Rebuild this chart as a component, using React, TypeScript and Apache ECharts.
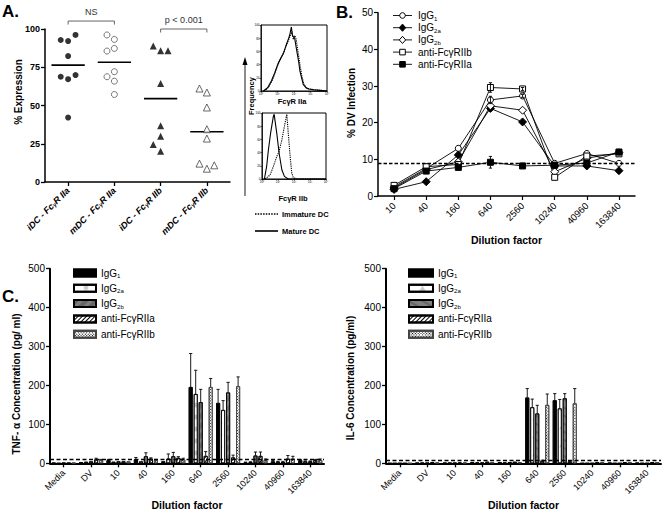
import React, { useEffect, useRef } from 'react';
import * as echarts from 'echarts';

const FONT = '"Liberation Sans", Arial, Helvetica, sans-serif';

// ---------- Panel A ----------
const aCategories = ['iDC - FcγR IIa', 'mDC - FcγR IIa', 'iDC - FcγR IIb', 'mDC - FcγR IIb'];
const aIdcIIa = [92.1, 92.8, 96.1, 82.3, 67.2, 68.8, 69.9, 42.1];
const aMdcIIa = [93.2, 96.1, 87.3, 85.6, 72.1, 68.8, 65.9, 57.2];
const aIdcIIb = [85.8, 88.9, 85.8, 64.4, 36.7, 29.9, 24.5, 20.1];
const aMdcIIb = [58.5, 61.1, 48.7, 34.5, 28.4, 8.7, 12.0, 10.9];
const bracketLabels = ['NS', 'p < 0.001'];
const bracketFrom = [0, 2];
const bracketTo = [1, 3];
const bracketLevel = [105.2, 100];

// ---------- Histograms ----------
const histTopMatureX = [0.14, 0.4, 0.64, 0.84, 1.04, 1.2, 1.36, 1.56, 1.68, 1.76, 1.84, 1.9, 1.96, 2.04, 2.16, 2.28, 2.36, 2.48, 2.56, 2.72, 2.88, 3.2, 3.6, 4.0];
const histTopMatureY = [0, 5, 16, 28, 42, 50, 57, 72, 80, 87, 97, 85, 82, 80, 62, 45, 30, 18, 10, 5, 3, 2, 1, 0];
const histTopImmatureX = [0.2, 0.48, 0.72, 0.96, 1.12, 1.32, 1.52, 1.68, 1.8, 1.88, 1.96, 2.04, 2.12, 2.24, 2.36, 2.48, 2.6, 2.8, 3.2, 4.0];
const histTopImmatureY = [0, 6, 18, 35, 45, 55, 68, 78, 85, 90, 78, 84, 80, 60, 40, 22, 10, 4, 2, 0];
const histBotMatureX = [0.15, 0.29, 0.4, 0.54, 0.71, 0.76, 0.92, 1.07, 1.24, 1.4, 1.64, 4.0];
const histBotMatureY = [0, 19, 44, 70, 95, 98, 70, 39, 14, 4, 0, 0];
const histBotImmatureX = [0.19, 0.5, 0.71, 0.92, 1.07, 1.24, 1.34, 1.44, 1.55, 1.64, 1.76, 1.86, 1.96, 2.18, 4.0];
const histBotImmatureY = [0, 6, 19, 34, 42, 59, 72, 85, 98, 70, 34, 9, 2, 0, 0];
const histYTicks = [0, 20, 40, 60, 80, 100];
const histXTickLabels = ['10⁰', '10¹', '10²', '10³', '10⁴'];

// ---------- Panel B ----------
const bCategories = ['10', '40', '160', '640', '2560', '10240', '40960', '163840'];
const bNames = ['IgG1', 'IgG2a', 'IgG2b', 'anti-FcγRIIb', 'anti-FcγRIIa'];
const bIgG1 = [2.5, 7.5, 13.0, 26.2, 27.3, 8.9, 11.6, 8.9];
const bIgG2a = [1.8, 3.9, 11.2, 23.9, 20.2, 8.2, 8.2, 6.9];
const bIgG2b = [2.2, 7.2, 9.3, 24.6, 23.4, 6.6, 10.3, 11.8];
const bAntiIIb = [2.9, 8.0, 8.6, 29.6, 29.2, 5.1, 10.9, 11.5];
const bAntiIIa = [2.0, 6.8, 7.8, 9.2, 8.2, 8.4, 9.0, 12.0];
const bErrIgG1 = [0, 0, 0, 1.0, 0.4, 0, 0, 0];
const bErrIIb = [0, 0, 0, 1.3, 0.4, 0, 0, 0.3];
const bErrIIa = [0.3, 0, 0, 1.6, 0.3, 0.3, 0.4, 0.3];
const bBaseline = 8.9;

// ---------- Panel C ----------
const cCategories = ['Media', 'DV', '10', '40', '160', '640', '2560', '10240', '40960', '163840'];
const cNames = ['IgG1', 'IgG2a', 'IgG2b', 'anti-FcγRIIa', 'anti-FcγRIIb'];
const tnfIgG1 = [1, 3, 8, 10, 5, 196, 155, 2, 5, 8];
const tnfIgG2a = [0, 4, 4, 5, 12, 178, 137, 3, 4, 5];
const tnfIgG2b = [1, 5, 5, 18, 18, 157, 182, 20, 3, 5];
const tnfAntiIIa = [1, 10, 5, 12, 14, 19, 15, 19, 12, 8];
const tnfAntiIIb = [1, 8, 5, 8, 10, 196, 198, 8, 12, 8];
const tnfErrIgG1 = [0, 0, 2, 5, 0, 86, 35, 1, 2, 2];
const tnfErrIgG2a = [0, 0, 0, 0, 12, 61, 24, 1, 1, 1];
const tnfErrIgG2b = [0, 0, 0, 9, 10, 33, 26, 9, 2, 1];
const tnfErrAntiIIa = [0, 3, 0, 2, 3, 11, 6, 10, 8, 2];
const tnfErrAntiIIb = [0, 2, 0, 2, 3, 22, 24, 3, 6, 3];
const tnfBaseline = 10;

const il6IgG1 = [0, 1, 1, 3, 3, 169, 162, 0, 1, 1];
const il6IgG2a = [0, 1, 1, 2, 2, 144, 141, 0, 0, 0];
const il6IgG2b = [0, 1, 1, 2, 3, 128, 167, 0, 0, 0];
const il6AntiIIa = [0, 3, 2, 4, 4, 6, 5, 3, 3, 3];
const il6AntiIIb = [0, 2, 2, 3, 3, 150, 154, 3, 3, 3];
const il6ErrIgG1 = [0, 0, 0, 0, 0, 23, 17, 0, 0, 0];
const il6ErrIgG2a = [0, 0, 0, 0, 0, 21, 23, 0, 0, 0];
const il6ErrIgG2b = [0, 0, 0, 0, 0, 21, 12, 0, 0, 0];
const il6ErrAntiIIa = [0, 0, 0, 0, 0, 2, 2, 0, 0, 0];
const il6ErrAntiIIb = [0, 0, 0, 0, 0, 28, 38, 0, 0, 0];
const il6Baseline = 8.5;

const BAR_W = 4;
const BAR_PITCH = 5;

function swarm(values: number[], center: number, step: number, thr: number) {
  const placed: number[][] = [];
  const cands = [0, -1, 1, -2, 2];
  for (const v of values) {
    let done = false;
    for (const c of cands) {
      const x = center + c * step;
      if (!placed.some(([px, pv]) => Math.abs(px - x) < step * 0.5 && Math.abs(pv - v) < thr)) {
        placed.push([x, v]);
        done = true;
        break;
      }
    }
    if (!done) placed.push([center, v]);
  }
  return placed;
}

const mean = (a: number[]) => a.reduce((s, v) => s + v, 0) / a.length;

const richName = (name: string) => {
  const base = name.split('|')[0];
  const m = base.match(/^IgG(.+)$/);
  return m ? `IgG{sub|${m[1]}}` : base;
};

function errSeries(xi: number, yi: number, values: number[], errs: number[], slot: number, both: boolean) {
  return {
    type: 'custom',
    xAxisIndex: xi,
    yAxisIndex: yi,
    clip: false,
    silent: true,
    z: 6,
    encode: { x: 0, y: 1 },
    data: values.map((v, i) => [i, v, errs[i]]),
    renderItem: (params: any, api: any) => {
      const e = api.value(2);
      if (!e) return { type: 'group', children: [] };
      const base = api.coord([api.value(0), api.value(1)]);
      const top = api.coord([api.value(0), api.value(1) + e]);
      const bot = api.coord([api.value(0), api.value(1) - e]);
      const x = base[0] + slot * BAR_PITCH;
      const ch: any[] = [
        { type: 'line', shape: { x1: x, y1: both ? bot[1] : base[1], x2: x, y2: top[1] }, style: { stroke: '#000', lineWidth: 0.9 } },
        { type: 'line', shape: { x1: x - 1.6, y1: top[1], x2: x + 1.6, y2: top[1] }, style: { stroke: '#000', lineWidth: 0.9 } },
      ];
      if (both) ch.push({ type: 'line', shape: { x1: x - 1.6, y1: bot[1], x2: x + 1.6, y2: bot[1] }, style: { stroke: '#000', lineWidth: 0.9 } });
      return { type: 'group', children: ch };
    },
  };
}

const hatchDecal = { symbol: 'rect', symbolSize: 1, dashArrayX: [1, 0], dashArrayY: [1, 1.6], rotation: -Math.PI / 4, color: '#000' };
const dotDecal = { symbol: 'rect', symbolSize: 1, dashArrayX: [1, 1], dashArrayY: [1, 1], color: '#000' };

function barSet(xi: number, yi: number, tag: string, vals: number[][], errs: number[][], baseline: number) {
  const styles: any[] = [
    { color: '#000', borderColor: '#000', borderWidth: 0.8, decal: 'none' },
    { color: '#fff', borderColor: '#000', borderWidth: 0.8, decal: 'none' },
    { color: '#808080', borderColor: '#000', borderWidth: 0.8, decal: 'none' },
    { color: '#fff', borderColor: '#000', borderWidth: 0.8, decal: hatchDecal },
    { color: '#fff', borderColor: '#444', borderWidth: 0.8, decal: dotDecal },
  ];
  const out: any[] = [];
  cNames.forEach((n, k) => {
    const s: any = {
      type: 'bar',
      name: `${n}|${tag}`,
      xAxisIndex: xi,
      yAxisIndex: yi,
      data: vals[k],
      barWidth: BAR_W,
      barGap: '25%',
      itemStyle: styles[k],
      silent: true,
    };
    if (k === 0) {
      s.markLine = {
        symbol: 'none',
        silent: true,
        label: { show: false },
        lineStyle: { type: [4, 2.5], color: '#000', width: 1.3 },
        data: [{ yAxis: baseline }],
      };
    }
    out.push(s);
  });
  cNames.forEach((n, k) => out.push(errSeries(xi, yi, vals[k], errs[k], k - 2, false)));
  return out;
}

function buildOption() {
  const axisLine = (w: number) => ({ show: true, onZero: false, lineStyle: { color: '#000', width: w } });
  const tick = (len: number, w = 1) => ({ show: true, length: len, lineStyle: { color: '#000', width: w } });

  const swA = [
    swarm(aIdcIIa, 0.5, 0.16, 5.8),
    swarm(aMdcIIa, 1.5, 0.16, 5.8),
    swarm(aIdcIIb, 2.5, 0.16, 5.8),
    swarm(aMdcIIb, 3.5, 0.16, 5.8),
  ];
  const aMeans = [aIdcIIa, aMdcIIa, aIdcIIb, aMdcIIb].map((g, i) => [i + 0.5, mean(g)]);

  const grid = [
    { left: 45, top: 29, width: 185, height: 153 },
    { left: 261, top: 25, width: 66, height: 66, show: true, borderColor: '#000', borderWidth: 1 },
    { left: 262, top: 113, width: 64, height: 66, show: true, borderColor: '#000', borderWidth: 1 },
    { left: 378, top: 12.7, width: 257, height: 183.3 },
    { left: 50, top: 268.7, width: 274, height: 194.6 },
    { left: 386, top: 268.7, width: 275, height: 194.6 },
  ].map((g) => ({ ...g, containLabel: false, outerBoundsMode: 'none' }));

  const catLabel = (size: number) => ({ rotate: 45, fontSize: size, color: '#000', fontFamily: FONT, margin: 8 });

  const histX = (gi: number) => ({
    type: 'value', gridIndex: gi, min: 0, max: 4, interval: 1, splitLine: { show: false },
    axisLine: axisLine(0.8), axisTick: tick(1.5, 0.6),
    axisLabel: { fontSize: 3, margin: 1.5, color: '#000', fontFamily: FONT, formatter: (v: number) => histXTickLabels[v] },
  });

  const xName = (gap: number) => ({
    name: 'Dilution factor', nameLocation: 'middle', nameGap: gap,
    nameTextStyle: { fontSize: 10.5, fontWeight: 'bold', color: '#000', fontFamily: FONT },
  });

  const xAxis: any[] = [
    {
      type: 'category', gridIndex: 0, data: aCategories,
      axisLine: axisLine(1.5), axisTick: { ...tick(4, 1.3), alignWithLabel: true },
      axisLabel: {
        rotate: 45, fontSize: 9, fontWeight: 'bold', fontStyle: 'italic', color: '#000', fontFamily: FONT, margin: 7,
        formatter: (v: string) => v.replace('γ', '{g|γ}'),
        rich: { g: { fontSize: 6, fontWeight: 'bold', fontStyle: 'italic', fontFamily: FONT, verticalAlign: 'bottom' } },
      },
    },
    { type: 'value', gridIndex: 0, min: 0, max: 4, show: false },
    histX(1),
    histX(2),
    {
      type: 'category', gridIndex: 3, data: bCategories,
      axisLine: axisLine(1.5), axisTick: { ...tick(4, 1.2), alignWithLabel: true },
      axisLabel: catLabel(9.5), ...xName(38),
    },
    {
      type: 'category', gridIndex: 4, data: cCategories,
      axisLine: axisLine(2), axisTick: { ...tick(4, 1.3), alignWithLabel: true },
      axisLabel: catLabel(9), ...xName(36),
    },
    {
      type: 'category', gridIndex: 5, data: cCategories,
      axisLine: axisLine(2), axisTick: { ...tick(4, 1.3), alignWithLabel: true },
      axisLabel: catLabel(9), ...xName(36),
    },
  ];

  const yLabel = (size: number, bold = false) => ({ fontSize: size, color: '#000', fontFamily: FONT, margin: 5, fontWeight: bold ? 'bold' : 'normal' });
  const histY = (gi: number) => ({
    type: 'value', gridIndex: gi, min: 0, max: 100, interval: 20, splitLine: { show: false }, axisLine: axisLine(0.8), axisTick: tick(1.5, 0.6),
    axisLabel: { fontSize: 3, margin: 1.5, color: '#000', fontFamily: FONT, formatter: (v: number) => (histYTicks.includes(v) ? String(v) : '') },
  });

  const yAxis: any[] = [
    { type: 'value', gridIndex: 0, min: 0, max: 100, interval: 25, splitLine: { show: false }, axisLine: axisLine(1.5), axisTick: tick(4, 1.3), axisLabel: yLabel(9, true) },
    histY(1),
    histY(2),
    { type: 'value', gridIndex: 3, min: 0, max: 50, interval: 10, splitLine: { show: false }, axisLine: axisLine(1.5), axisTick: tick(4, 1.2), axisLabel: yLabel(10) },
    { type: 'value', gridIndex: 4, min: 0, max: 500, interval: 100, splitLine: { show: false }, axisLine: axisLine(2), axisTick: tick(4, 1.3), axisLabel: yLabel(10) },
    { type: 'value', gridIndex: 5, min: 0, max: 500, interval: 100, splitLine: { show: false }, axisLine: axisLine(2), axisTick: tick(4, 1.3), axisLabel: yLabel(10) },
  ];

  const aStyles: any[] = [
    { symbol: 'circle', itemStyle: { color: '#000', decal: 'none' } },
    { symbol: 'circle', itemStyle: { color: '#fff', borderColor: '#555', borderWidth: 1, decal: 'none' } },
    { symbol: 'triangle', itemStyle: { color: '#000', decal: 'none' } },
    { symbol: 'triangle', itemStyle: { color: '#fff', borderColor: '#444', borderWidth: 1, decal: 'none' } },
  ];

  const series: any[] = [];
  swA.forEach((pts, i) => {
    series.push({
      type: 'scatter', xAxisIndex: 1, yAxisIndex: 0, data: pts, symbolSize: i >= 2 ? 7 : 6,
      symbol: aStyles[i].symbol, itemStyle: aStyles[i].itemStyle, silent: true,
    });
  });
  series.push({
    type: 'custom', xAxisIndex: 1, yAxisIndex: 0, clip: false, silent: true, encode: { x: 0, y: 1 },
    data: aMeans,
    renderItem: (p: any, api: any) => {
      const a = api.coord([api.value(0) - 0.36, api.value(1)]);
      const b = api.coord([api.value(0) + 0.36, api.value(1)]);
      return { type: 'line', shape: { x1: a[0], y1: a[1], x2: b[0], y2: b[1] }, style: { stroke: '#000', lineWidth: 1.6 } };
    },
  });
  series.push({
    type: 'custom', xAxisIndex: 1, yAxisIndex: 0, clip: false, silent: true, encode: { x: 0, y: 2 },
    data: bracketFrom.map((f, i) => [f + 0.5, bracketTo[i] + 0.5, bracketLevel[i]]),
    renderItem: (p: any, api: any) => {
      const l = api.coord([api.value(0), api.value(2)]);
      const r = api.coord([api.value(1), api.value(2)]);
      const leg = 3.5;
      return {
        type: 'group',
        children: [
          { type: 'polyline', shape: { points: [[l[0], l[1] + leg], [l[0], l[1]], [r[0], r[1]], [r[0], r[1] + leg]] }, style: { stroke: '#555', lineWidth: 0.9, fill: 'none' } },
          { type: 'text', x: (l[0] + r[0]) / 2, y: l[1] - 5, style: { text: bracketLabels[p.dataIndex], align: 'center', verticalAlign: 'bottom', fontSize: 9, fontFamily: FONT, fill: '#333' } },
        ],
      };
    },
  });

  const histLine = (xi: number, yi: number, xs: number[], ys: number[], dotted: boolean) => ({
    type: 'line', xAxisIndex: xi, yAxisIndex: yi, showSymbol: false, symbol: 'none', silent: true,
    data: xs.map((x, i) => [x, ys[i]]),
    lineStyle: { color: '#000', width: 1.1, type: dotted ? [1.2, 1] : 'solid' },
  });
  series.push(histLine(2, 1, histTopImmatureX, histTopImmatureY, true));
  series.push(histLine(2, 1, histTopMatureX, histTopMatureY, false));
  series.push(histLine(3, 2, histBotImmatureX, histBotImmatureY, true));
  series.push(histLine(3, 2, histBotMatureX, histBotMatureY, false));

  const bValues = [bIgG1, bIgG2a, bIgG2b, bAntiIIb, bAntiIIa];
  const bSymbols = ['circle', 'diamond', 'diamond', 'rect', 'rect'];
  const bSizes = [6, 8, 8, 6, 6];
  const bFills = ['#fff', '#000', '#fff', '#fff', '#000'];
  bNames.forEach((n, i) => {
    const s: any = {
      type: 'line', name: `${n}|B`, xAxisIndex: 4, yAxisIndex: 3, silent: true,
      data: bValues[i], symbol: bSymbols[i], symbolSize: bSizes[i],
      itemStyle: { color: bFills[i], borderColor: '#000', borderWidth: 1, decal: 'none' },
      showSymbol: true, lineStyle: { color: '#000', width: 0.9 }, z: 3,
    };
    if (i === 0) {
      s.markLine = {
        symbol: 'none', silent: true, label: { show: false },
        lineStyle: { type: [3.5, 2], color: '#000', width: 1.4 },
        data: [{ yAxis: bBaseline }],
      };
    }
    series.push(s);
  });
  series.push(errSeries(4, 3, bIgG1, bErrIgG1, 0, true));
  series.push(errSeries(4, 3, bAntiIIb, bErrIIb, 0, true));
  series.push(errSeries(4, 3, bAntiIIa, bErrIIa, 0, true));

  series.push(...barSet(5, 4, 'T', [tnfIgG1, tnfIgG2a, tnfIgG2b, tnfAntiIIa, tnfAntiIIb], [tnfErrIgG1, tnfErrIgG2a, tnfErrIgG2b, tnfErrAntiIIa, tnfErrAntiIIb], tnfBaseline));
  series.push(...barSet(6, 5, 'I', [il6IgG1, il6IgG2a, il6IgG2b, il6AntiIIa, il6AntiIIb], [il6ErrIgG1, il6ErrIgG2a, il6ErrIgG2b, il6ErrAntiIIa, il6ErrAntiIIb], il6Baseline));

  const subRich = { sub: { fontSize: 6, fontFamily: FONT, verticalAlign: 'bottom', lineHeight: 12 } };
  const legTextStyle = { fontSize: 10, color: '#000', fontFamily: FONT, lineHeight: 12, rich: subRich };
  const legend: any[] = [
    {
      left: 68, top: 262, orient: 'vertical', itemWidth: 22, itemHeight: 7, itemGap: 3.3, selectedMode: false, icon: 'rect',
      data: cNames.map((n) => `${n}|T`), formatter: richName, textStyle: legTextStyle,
    },
    {
      left: 403, top: 262, orient: 'vertical', itemWidth: 24, itemHeight: 7, itemGap: 3.3, selectedMode: false, icon: 'rect',
      data: cNames.map((n) => `${n}|I`), formatter: richName, textStyle: legTextStyle,
    },
  ];

  const txt = (text: string, x: number, y: number, size: number, opts: any = {}) => ({
    type: 'text', x, y, rotation: opts.rotation || 0, silent: true,
    style: { text, fontSize: size, fontWeight: opts.weight || 'bold', fontFamily: FONT, fill: '#000', align: opts.align || 'center', verticalAlign: 'middle', rich: opts.rich },
  });

  // Panel B legend drawn as a key (line + marker + label)
  const bLegend: any[] = [];
  bNames.forEach((n, i) => {
    const y = 15.5 + i * 12.2;
    const cx = 402.5;
    bLegend.push({ type: 'line', silent: true, shape: { x1: 393, y1: y, x2: 412, y2: y }, style: { stroke: '#000', lineWidth: 0.9 } });
    const st = { fill: bFills[i], stroke: '#000', lineWidth: 1 };
    if (bSymbols[i] === 'circle') bLegend.push({ type: 'circle', silent: true, shape: { cx, cy: y, r: 2.8 }, style: st });
    else if (bSymbols[i] === 'diamond') bLegend.push({ type: 'polygon', silent: true, shape: { points: [[cx, y - 3.6], [cx + 3.2, y], [cx, y + 3.6], [cx - 3.2, y]] }, style: st });
    else bLegend.push({ type: 'rect', silent: true, shape: { x: cx - 2.8, y: y - 2.8, width: 5.6, height: 5.6 }, style: st });
    bLegend.push(txt(richName(n), 418, y, 10, { align: 'left', weight: 'normal', rich: subRich }));
  });

  const graphic: any[] = [
    txt('A.', 2, 11, 17, { align: 'left' }),
    txt('B.', 336, 12, 17, { align: 'left' }),
    txt('C.', 2, 296, 17, { align: 'left' }),
    txt('% Expression', 18, 92, 10, { rotation: Math.PI / 2 }),
    txt('% DV Infection', 351, 103, 10, { rotation: Math.PI / 2 }),
    txt('TNF- α Concentration (pg/ ml)', 16, 384, 10, { rotation: Math.PI / 2 }),
    txt('IL-6 Concentration (pg/ml)', 350, 378, 10, { rotation: Math.PI / 2 }),
    txt('FcγR IIa', 292, 101, 7.5),
    txt('FcγR IIb', 293, 198, 7.5),
    txt('Frequency', 251, 96, 7.5, { rotation: Math.PI / 2 }),
    { type: 'line', silent: true, shape: { x1: 245, y1: 196, x2: 245, y2: 64 }, style: { stroke: '#000', lineWidth: 0.9 } },
    { type: 'polygon', silent: true, shape: { points: [[245, 57], [242.5, 65], [247.5, 65]] }, style: { fill: '#000' } },
    { type: 'line', silent: true, shape: { x1: 255, y1: 214, x2: 278, y2: 214 }, style: { stroke: '#000', lineWidth: 1.3, lineDash: [1.5, 1.2] } },
    txt('Immature DC', 282, 214, 7.5, { align: 'left' }),
    { type: 'line', silent: true, shape: { x1: 255, y1: 231, x2: 278, y2: 231 }, style: { stroke: '#000', lineWidth: 1.6 } },
    txt('Mature DC', 282, 231, 7.5, { align: 'left' }),
    ...bLegend,
  ];

  return {
    animation: false,
    backgroundColor: '#fff',
    aria: { enabled: true, decal: { show: true } },
    textStyle: { fontFamily: FONT },
    grid,
    xAxis,
    yAxis,
    legend,
    series,
    graphic,
  };
}

export default function App() {
  const ref = useRef<HTMLDivElement>(null);
  useEffect(() => {
    const chart = echarts.init(ref.current!, null, { renderer: 'svg' });
    chart.setOption(buildOption() as any);
    return () => chart.dispose();
  }, []);
  return <div ref={ref} style={{ position: 'fixed', left: 0, top: 0, width: 664, height: 519, background: '#fff' }} />;
}
